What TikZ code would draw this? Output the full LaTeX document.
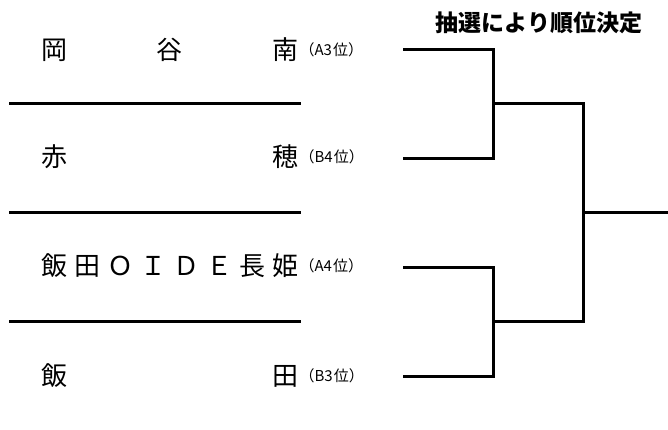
\documentclass[tikz,border=0pt]{standalone}
\usepackage{fontspec}
\newfontfamily\jpfont{Noto Sans CJK JP}
\usepackage{tikz}
\usetikzlibrary{positioning}
\newcommand{\spreadname}[1]{\hbox to 257pt{#1}}
\tikzset{
    %Define style for team names
    team/.style={
           anchor=west,
           inner sep=0pt,
           font=\jpfont\fontsize{26}{26}\selectfont},
    %Define style for ranks
    rank/.style={
           inner sep=0pt,
           font=\jpfont\fontsize{15}{15}\selectfont},
    %Define style for title
    heading/.style={
           inner sep=0pt,
           font=\jpfont\bfseries\fontsize{23}{23}\selectfont},
    % Define line styles
    sepline/.style={line width=3pt},
    bracket/.style={line width=3pt, line join=miter}
}
\begin{document}
\begin{tikzpicture}[x=1pt, y=-1pt, node distance=1pt]
\useasboundingbox (0,0) rectangle (668,429);

%title
\node[heading] (title) at (539,23) {抽選により順位決定};

%teams
\node[team] (okaya) at (41,50) {\spreadname{岡\hfill 谷\hfill 南}};
\node[rank, right=of okaya] (okayarank) {（A3\kern1pt 位）};
\node[team] (ako) at (41,157) {\spreadname{赤\hfill 穂}};
\node[rank, right=of ako] (akorank) {（B4\kern1pt 位）};
\node[team] (oide) at (41,266) {\spreadname{飯\hfill 田\hfill Ｏ\hfill Ｉ\hfill Ｄ\hfill Ｅ\hfill 長\hfill 姫}};
\node[rank, right=of oide] (oiderank) {（A4\kern1pt 位）};
\node[team] (iida) at (41,376) {\spreadname{飯\hfill 田}};
\node[rank, right=of iida] (iidarank) {（B3\kern1pt 位）};

%separators
\draw[sepline] (9,103) -- (301,103);
\draw[sepline] (9,212) -- (301,212);
\draw[sepline] (9,321) -- (301,321);

%bracket ends
\coordinate (t1) at (403,49);
\coordinate (t2) at (403,158);
\coordinate (t3) at (403,267);
\coordinate (t4) at (403,376);
\coordinate (semi1) at (493,103);
\coordinate (semi2) at (493,321);
\coordinate (final) at (583,212);
\coordinate (winner) at (668,212);

%bracket
\draw[bracket] (t1) -| (semi1) |- (t2);
\draw[bracket] (t3) -| (semi2) |- (t4);
\draw[bracket] (semi1) -| (final) |- (semi2);
\draw[bracket] (final) -- (winner);

\end{tikzpicture}
\end{document}
